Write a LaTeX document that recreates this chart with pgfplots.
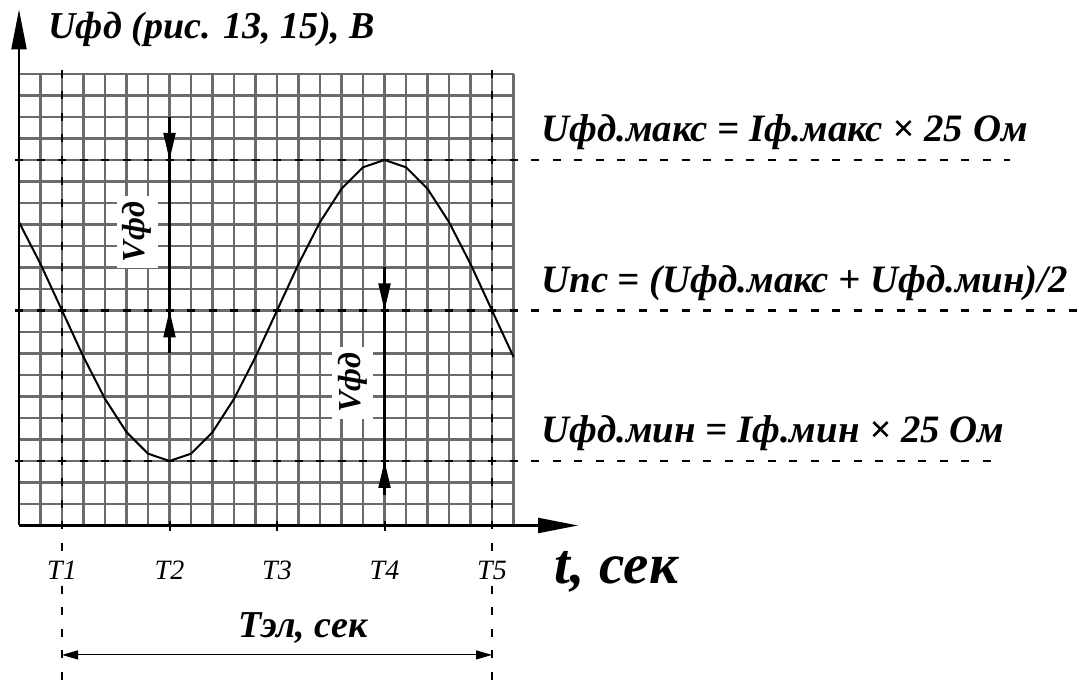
\documentclass[border=0pt]{standalone}
\usepackage{fontspec}
\setmainfont{Liberation Serif}
\usepackage{pgfplots}
\pgfplotsset{compat=1.18}
\usetikzlibrary{arrows.meta}

% field-winding voltage over one period
\pgfplotstableread{
t     u
0     14.11
1     12.16
2     10.00
3     7.84
4     5.89
5     4.34
6     3.34
7     3.00
8     3.34
9     4.34
10    5.89
11    7.84
12    10.00
13    12.16
14    14.11
15    15.66
16    16.66
17    17.00
18    16.66
19    15.66
20    14.11
21    12.16
22    10.00
23    7.84
}\ufdtable

\tikzset{
  big/.style={font=\fontsize{19}{22}\selectfont\bfseries\itshape, inner sep=0pt},
  side/.style={font=\fontsize{19.4}{22}\selectfont\bfseries\itshape, inner sep=0pt, anchor=base west},
  tlab/.style={fill=white, inner sep=1pt, font=\fontsize{14}{16}\selectfont\itshape},
  gridline/.style={black!58, line width=1.1pt},
  dashline/.style={black, line width=1.35pt, dash pattern=on 4pt off 6.75pt},
  vline/.style={black, line width=1.05pt},
  vtip/.style={-{Triangle[length=13.5pt,width=6pt]}, line width=1.05pt},
}

\begin{document}
\begin{tikzpicture}
\begin{axis}[
  x=10.75pt, y=10.75pt,
  xmin=0, xmax=23, ymin=0, ymax=21,
  clip=false,
  axis line style={draw=none},
  xtick=\empty, ytick=\empty,
]
% millimetre-style grid, one line per unit
\pgfplotsinvokeforeach{0,...,23}{
  \draw[gridline] (axis cs:#1,0) -- (axis cs:#1,21);
}
\pgfplotsinvokeforeach{0,...,21}{
  \draw[gridline] (axis cs:0,#1) -- (axis cs:23,#1);
}

% time axis and voltage axis
\draw[black, line width=1.05pt, -{Triangle[length=20pt,width=7.5pt]}] (axis cs:0,0) -- (axis cs:26,0);
\draw[black, line width=1.05pt, -{Triangle[length=20pt,width=7.5pt]}] (axis cs:0,0) -- (axis cs:0,24);

% period markers T1 and T5
\draw[dashline] (axis cs:2,21.186) -- (axis cs:2,-7.3);
\draw[dashline] (axis cs:22,21.186) -- (axis cs:22,-7.3);
\pgfplotsinvokeforeach{7,12,17}{
  \draw[black, line width=1pt] (axis cs:#1,-0.25) -- (axis cs:#1,0.2);
}

% max, mean and min levels
\draw[dashline] (axis cs:-0.186,17) -- (axis cs:46.1,17);
\draw[dashline] (axis cs:-0.186,10) -- (axis cs:50.5,10);
\draw[dashline] (axis cs:-0.186,3) -- (axis cs:45.2,3);

\addplot[black, line width=1pt] table[x=t, y=u] {\ufdtable};

% swing arrows
\draw[vline] (axis cs:7,19) -- (axis cs:7,8);
\draw[vtip] (axis cs:7,19) -- (axis cs:7,17);
\draw[vtip] (axis cs:7,8) -- (axis cs:7,10);
\node[rotate=90, fill=white, inner sep=3pt, font=\fontsize{16}{18}\selectfont\bfseries\itshape] at (axis cs:5.5,13.65) {Vфд};

\draw[vline] (axis cs:17,12) -- (axis cs:17,1.4);
\draw[vtip] (axis cs:17,12) -- (axis cs:17,10);
\draw[vtip] (axis cs:17,1.4) -- (axis cs:17,3);
\node[rotate=90, fill=white, inner sep=3pt, font=\fontsize{16}{18}\selectfont\bfseries\itshape] at (axis cs:15.53,6.63) {Vфд};

% labels
\node[big, anchor=base west] at (axis cs:1.35,22.67) {Uфд (рис. 13, 15), В};
\node[side] at (axis cs:24.28,17.85) {Uфд.макс = Iф.макс × 25 Ом};
\node[side] at (axis cs:24.28,10.85) {Uпс = (Uфд.макс + Uфд.мин)/2};
\node[side] at (axis cs:24.28,3.85) {Uфд.мин = Iф.мин × 25 Ом};

\node[tlab] at (axis cs:2,-2.07) {T1};
\node[tlab] at (axis cs:7,-2.07) {T2};
\node[tlab] at (axis cs:12,-2.07) {T3};
\node[tlab] at (axis cs:17,-2.07) {T4};
\node[tlab] at (axis cs:22,-2.07) {T5};
\node[anchor=base west, inner sep=0pt, font=\fontsize{28.5}{32}\selectfont\bfseries\itshape] at (axis cs:24.9,-2.68) {t, сек};

\node[big] at (axis cs:13.2,-4.77) {Тэл, сек};
\draw[black, line width=0.5pt, {Triangle[length=8pt,width=4.5pt]}-{Triangle[length=8pt,width=4.5pt]}] (axis cs:2,-6.02) -- (axis cs:22,-6.02);

\coordinate (bbsw) at (axis cs:-0.884,-7.186);
\coordinate (bbne) at (axis cs:49.30,24.44);
\end{axis}
\pgfresetboundingbox
\path[use as bounding box] (bbsw) rectangle (bbne);
\end{tikzpicture}
\end{document}
